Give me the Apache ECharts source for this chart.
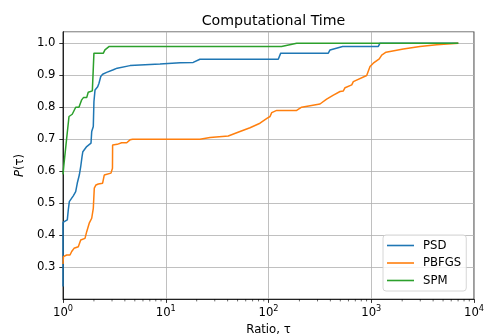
<!DOCTYPE html>
<html>
<head>
<meta charset="utf-8">
<script src="https://cdn.jsdelivr.net/npm/echarts@6/dist/echarts.min.js"></script>
<style>
  html, body { margin: 0; padding: 0; background: #fff; }
  #chart { width: 491px; height: 336px; }
</style>
</head>
<body>
<div id="chart"></div>
<script>
// Performance profiles: fraction of problems solved within ratio tau of the best solver.
const psdTau = [1, 1, 1.023, 1.101, 1.126, 1.152, 1.259, 1.329, 1.378, 1.441, 1.487, 1.531, 1.56, 1.601, 1.701, 1.873, 1.903, 1.972, 2.0, 2.05, 2.175, 2.24, 2.33, 2.43, 2.66, 3.09, 3.37, 4.49, 8.79, 13.8, 18.5, 21.5, 124.5, 131.5, 382, 397, 527, 1172, 1217, 7030];
const psdP   = [0.24, 0.44, 0.443, 0.448, 0.479, 0.505, 0.523, 0.536, 0.563, 0.588, 0.614, 0.645, 0.661, 0.667, 0.677, 0.6875, 0.724, 0.74, 0.817, 0.854, 0.864, 0.875, 0.896, 0.903, 0.909, 0.917, 0.922, 0.93, 0.935, 0.939, 0.94, 0.95, 0.95, 0.969, 0.969, 0.979, 0.99, 0.99, 1.0, 1.0];

const pbfgsTau = [1, 1.01, 1.086, 1.17, 1.215, 1.28, 1.409, 1.487, 1.637, 1.701, 1.80, 1.903, 1.972, 2.016, 2.094, 2.206, 2.43, 2.52, 2.93, 3.03, 3.04, 3.37, 3.72, 4.17, 4.49, 4.76, 21.5, 27, 40.6, 52.8, 66.1, 82.6, 97.3, 103.5, 107.5, 120.3, 188, 210, 317, 368, 428, 497, 535, 556, 646, 669, 903, 973, 1047, 1197, 1264, 1393, 2051, 2980, 4335, 7030];
const pbfgsP   = [0.31, 0.333, 0.338, 0.338, 0.349, 0.359, 0.364, 0.385, 0.39, 0.411, 0.4375, 0.453, 0.484, 0.547, 0.557, 0.56, 0.5625, 0.588, 0.594, 0.609, 0.682, 0.684, 0.689, 0.689, 0.698, 0.70, 0.70, 0.705, 0.71, 0.724, 0.736, 0.75, 0.766, 0.771, 0.783, 0.79, 0.79, 0.80, 0.81, 0.825, 0.838, 0.849, 0.851, 0.861, 0.87, 0.88, 0.899, 0.927, 0.9375, 0.951, 0.963, 0.972, 0.982, 0.99, 0.995, 1.0];

const spmTau = [1, 1.02, 1.086, 1.144, 1.23, 1.33, 1.43, 1.52, 1.58, 1.70, 1.76, 1.93, 1.97, 2.0, 2.47, 2.56, 2.82, 134, 188, 7030];
const spmP   = [0.59, 0.62, 0.703, 0.771, 0.778, 0.80, 0.80, 0.823, 0.83, 0.83, 0.847, 0.851, 0.851, 0.969, 0.969, 0.979, 0.99, 0.99, 1.0, 1.0];

const seriesNames = ['PSD', 'PBFGS', 'SPM'];
const seriesColors = ['#1f77b4', '#ff7f0e', '#2ca02c'];

// Minor tick positions on the log axis (2..9 in each decade)
const minorTickValues = [];
for (let d = 1; d < 10000; d *= 10) {
  for (let k = 2; k <= 9; k++) minorTickValues.push(k * d);
}

const Y_MIN = 0.2, Y_MAX = 1.036;
const FONT = 'DejaVu Sans';
const TICK_FS = 11.7;

function zip(xs, ys) { return xs.map((x, i) => [x, ys[i]]); }

const lines = [zip(psdTau, psdP), zip(pbfgsTau, pbfgsP), zip(spmTau, spmP)].map((data, i) => ({
  name: seriesNames[i],
  type: 'line',
  data: data,
  showSymbol: false,
  symbol: 'none',
  lineStyle: { color: seriesColors[i], width: 1.5 },
  itemStyle: { color: seriesColors[i] },
  z: 3 + i
}));

const chart = echarts.init(document.getElementById('chart'), null, { renderer: 'canvas' });
chart.setOption({
  animation: false,
  textStyle: { fontFamily: FONT },
  title: {
    text: 'Computational Time',
    left: 268.5, top: 9, textAlign: 'center',
    textStyle: { fontFamily: FONT, fontSize: 14.2, fontWeight: 'normal', color: '#000' }
  },
  grid: {
    left: 63, right: 17, top: 31.7, bottom: 36.8,
    containLabel: false, outerBoundsMode: 'none',
    show: true, borderColor: '#000', borderWidth: 0.8, backgroundColor: '#fff'
  },
  legend: {
    orient: 'vertical',
    left: 383, top: 235,
    data: seriesNames,
    icon: 'rect',
    itemWidth: 27, itemHeight: 1.6,
    itemGap: 3.5,
    padding: [3.5, 5, 3.5, 4],
    backgroundColor: 'rgba(255,255,255,0.8)',
    borderColor: '#cccccc', borderWidth: 0.8, borderRadius: 3,
    textStyle: { fontFamily: FONT, fontSize: TICK_FS, color: '#000', lineHeight: 14, padding: [0, 0, 0, 4] }
  },
  xAxis: {
    type: 'log', logBase: 10, min: 1, max: 10000,
    name: 'Ratio, τ', nameLocation: 'middle', nameGap: 24,
    nameTextStyle: { fontFamily: FONT, fontSize: TICK_FS, color: '#000' },
    axisLine: { show: true, lineStyle: { color: '#000', width: 0.8 } },
    axisTick: { show: true, inside: false, length: 3.7, lineStyle: { color: '#000', width: 0.8 } },
    axisLabel: {
      margin: 6, color: '#000',
      formatter: function (v) {
        const e = Math.round(Math.log10(v));
        return '{b|10}{e|' + e + '}';
      },
      rich: {
        b: { fontFamily: FONT, fontSize: TICK_FS, color: '#000', lineHeight: 15 },
        e: { fontFamily: FONT, fontSize: 8.2, color: '#000', verticalAlign: 'top', lineHeight: 15, padding: [0, 0, 5, 0] }
      }
    },
    splitLine: { show: true, lineStyle: { color: '#b0b0b0', width: 0.8 } }
  },
  yAxis: {
    type: 'value', min: Y_MIN, max: Y_MAX, interval: 0.1,
    name: '{i|P}(τ)', nameLocation: 'middle', nameGap: 34, nameRotate: 90,
    nameTextStyle: {
      fontFamily: FONT, fontSize: TICK_FS, color: '#000',
      rich: { i: { fontFamily: FONT, fontSize: TICK_FS, fontStyle: 'italic', color: '#000' } }
    },
    axisLine: { show: true, lineStyle: { color: '#000', width: 0.8 } },
    axisTick: { show: true, inside: false, length: 3.7, lineStyle: { color: '#000', width: 0.8 } },
    axisLabel: {
      margin: 7.5, color: '#000', fontFamily: FONT, fontSize: TICK_FS,
      showMinLabel: false, showMaxLabel: false,
      formatter: function (v) {
        const r = Math.round(v * 10) / 10;
        if (Math.abs(r - v) > 1e-6 || r < 0.25 || r > 1.01) return '';
        return r.toFixed(1);
      }
    },
    splitLine: { show: true, lineStyle: { color: '#b0b0b0', width: 0.8 } }
  },
  series: lines.concat([{
    name: 'minorTicks',
    type: 'custom',
    silent: true,
    clip: false,
    data: minorTickValues.map(v => [v, Y_MIN]),
    renderItem: function (params, api) {
      const p = api.coord([api.value(0), Y_MIN]);
      return {
        type: 'line',
        shape: { x1: p[0], y1: p[1], x2: p[0], y2: p[1] + 2.2 },
        style: { stroke: '#000', lineWidth: 0.6 }
      };
    },
    z: 1
  }])
});
</script>
</body>
</html>
